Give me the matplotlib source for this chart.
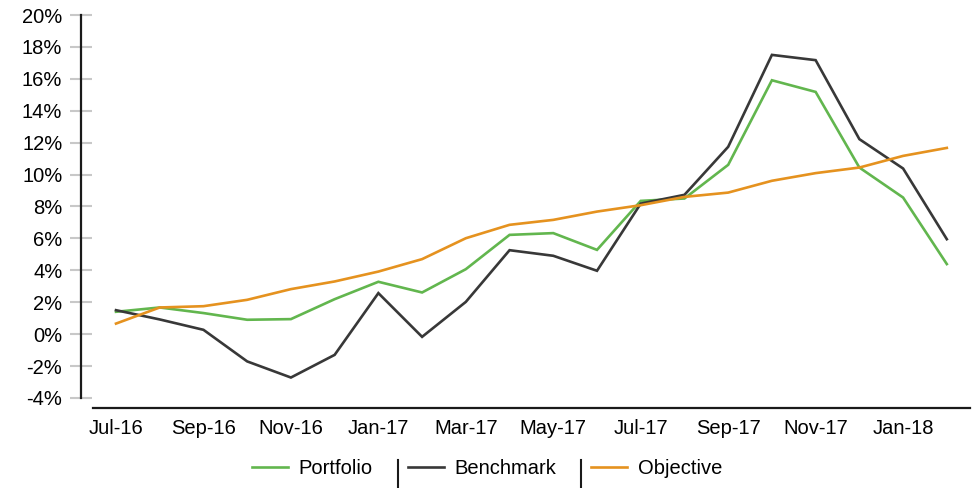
import matplotlib
matplotlib.use("Agg")
import matplotlib.pyplot as plt
from matplotlib.lines import Line2D
from matplotlib.ticker import FuncFormatter

months = ["Jul-16", "Aug-16", "Sep-16", "Oct-16", "Nov-16", "Dec-16", "Jan-17", "Feb-17",
          "Mar-17", "Apr-17", "May-17", "Jun-17", "Jul-17", "Aug-17", "Sep-17", "Oct-17",
          "Nov-17", "Dec-17", "Jan-18", "Feb-18"]
portfolio = [1.40, 1.67, 1.32, 0.90, 0.94, 2.19, 3.28, 2.61, 4.07, 6.22,
             6.33, 5.28, 8.35, 8.50, 10.61, 15.91, 15.18, 10.44, 8.56, 4.39]
benchmark = [1.50, 0.92, 0.27, -1.71, -2.72, -1.30, 2.57, -0.17, 2.02, 5.26,
             4.91, 3.97, 8.18, 8.73, 11.74, 17.50, 17.17, 12.22, 10.38, 5.95]
objective = [0.66, 1.67, 1.75, 2.15, 2.82, 3.30, 3.92, 4.70, 6.01, 6.85,
             7.16, 7.68, 8.08, 8.60, 8.87, 9.61, 10.09, 10.44, 11.17, 11.67]
yticks = list(range(-4, 21, 2))
xtick_idx = list(range(0, 20, 2))

plt.rcParams['font.family'] = ['Liberation Sans', 'DejaVu Sans']
FS = 14.5

fig = plt.figure(figsize=(9.76, 4.88), dpi=100)
ax = fig.add_axes([93/976, 1-408/488, (970-93)/976, (408-15)/488])

x = list(range(len(months)))
ax.plot(x, portfolio, color='#62b64e', lw=1.9, label='Portfolio', solid_joinstyle='miter')
ax.plot(x, benchmark, color='#383838', lw=1.9, label='Benchmark', solid_joinstyle='miter')
ax.plot(x, objective, color='#e5921f', lw=1.9, label='Objective', solid_joinstyle='miter')

ax.set_xlim(-0.526, 19.53)
ax.set_ylim(-4.63, 20)
ax.set_yticks(yticks)
ax.yaxis.set_major_formatter(FuncFormatter(lambda v, p: f"{int(round(v))}%"))
ax.set_xticks(xtick_idx)
ax.set_xticklabels([months[i] for i in xtick_idx])

for s in ['top', 'right']:
    ax.spines[s].set_visible(False)
ax.spines['left'].set_position(('outward', 12*0.72))
ax.spines['left'].set_bounds(-4, 20)
ax.spines['left'].set_linewidth(1.6)
ax.spines['left'].set_color('#1a1a1a')
ax.spines['bottom'].set_linewidth(1.6)
ax.spines['bottom'].set_color('#1a1a1a')

ax.tick_params(axis='y', direction='inout', length=22*0.72, width=1.5, color='#c8c8c8',
               labelsize=FS, pad=5.5)
ax.tick_params(axis='x', length=0, labelsize=FS, pad=8)

leg = ax.legend(loc='center', bbox_to_anchor=(487/976, 1-469/488), bbox_transform=fig.transFigure,
                ncol=3, frameon=False, fontsize=FS, handlelength=1.8, handletextpad=0.5,
                columnspacing=1.75)

fig.canvas.draw()
renderer = fig.canvas.get_renderer()
H = 488
for h in leg.legend_handles[1:]:
    bb = h.get_window_extent(renderer)
    xs = bb.x0 - 10
    fig.add_artist(Line2D([xs, xs], [H-460, H-487], transform=None, color='#1a1a1a', lw=1.5))

fig.savefig('out.png', dpi=100)
